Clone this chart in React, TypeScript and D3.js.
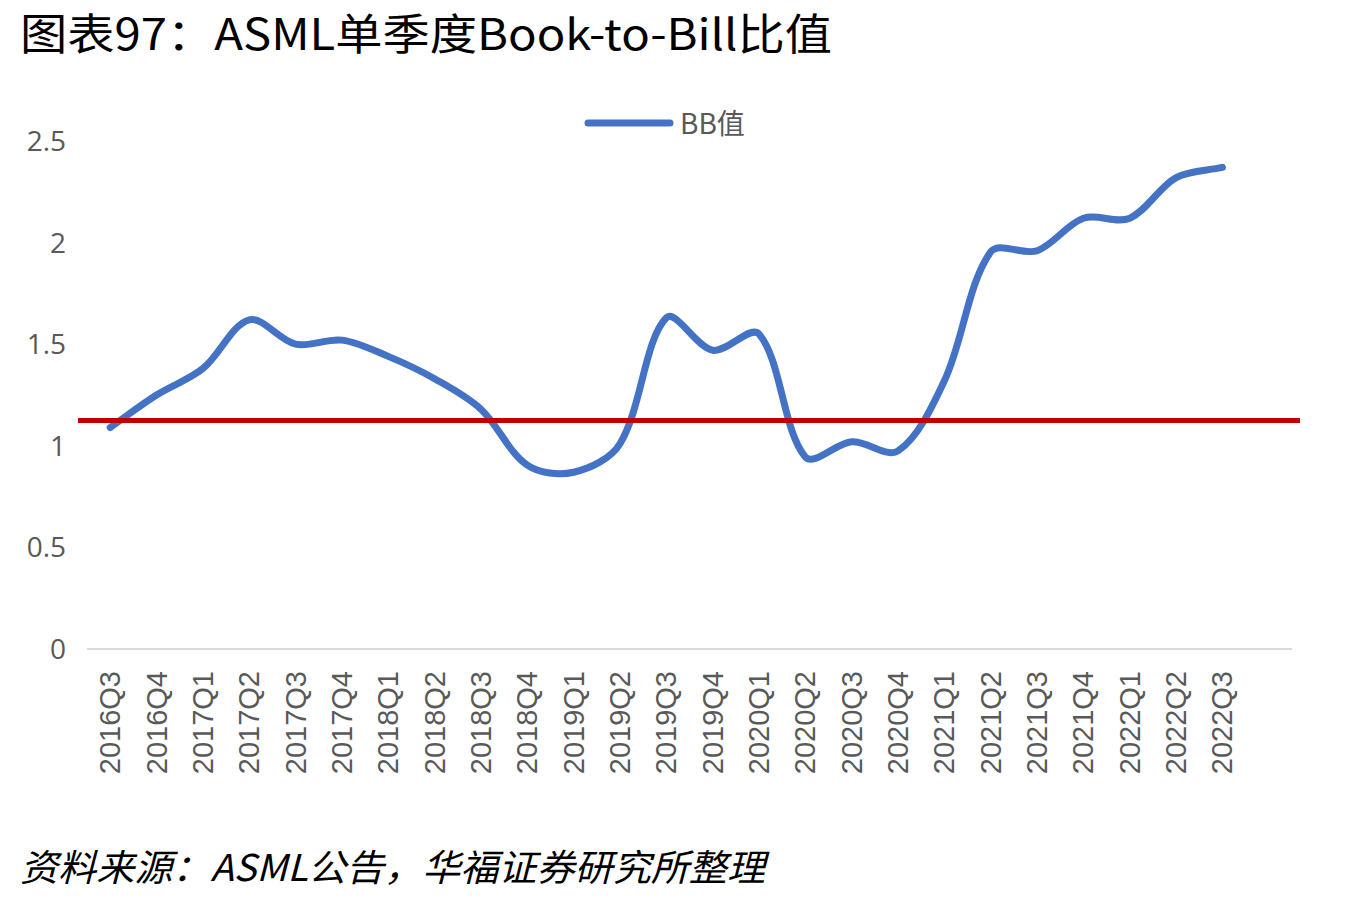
import React from "react";
import * as d3 from "d3";

const categories = [
  "2016Q3","2016Q4","2017Q1","2017Q2","2017Q3","2017Q4","2018Q1","2018Q2","2018Q3","2018Q4",
  "2019Q1","2019Q2","2019Q3","2019Q4","2020Q1","2020Q2","2020Q3","2020Q4","2021Q1","2021Q2",
  "2021Q3","2021Q4","2022Q1","2022Q2","2022Q3",""
];
const bbValues = [
  1.09,1.25,1.38,1.62,1.50,1.52,1.44,1.33,1.18,0.905,
  0.87,1.01,1.63,1.47,1.55,0.945,1.02,0.975,1.32,1.955,
  1.96,2.12,2.12,2.32,2.37
];
const yTicks = [0, 0.5, 1, 1.5, 2, 2.5];
const refValue = [1.125];

const W = 1370, H = 901;
const left = 87, right = 1292, top = 141, bottom = 649;

// Excel-like smoothing: Bezier with control points weighted by neighbouring segment lengths
function smoothPath(pts: [number, number][]): string {
  const p = d3.path();
  const n = pts.length;
  if (!n) return "";
  p.moveTo(pts[0][0], pts[0][1]);
  const dist = (a: [number, number], b: [number, number]) => Math.hypot(b[0] - a[0], b[1] - a[1]);
  const ctrl = (i: number) => {
    const prev = pts[Math.max(0, i - 1)];
    const next = pts[Math.min(n - 1, i + 1)];
    const cur = pts[i];
    const dp = i > 0 ? dist(prev, cur) : 0;
    const dn = i < n - 1 ? dist(cur, next) : 0;
    const tx = next[0] - prev[0];
    const ty = next[1] - prev[1];
    const s = dp + dn || 1;
    const tau = 1 / 3;
    return {
      before: [cur[0] - tx * tau * (dp / s), cur[1] - ty * tau * (dp / s)],
      after: [cur[0] + tx * tau * (dn / s), cur[1] + ty * tau * (dn / s)],
    };
  };
  const cs = pts.map((_, i) => ctrl(i));
  for (let i = 0; i < n - 1; i++) {
    const a = cs[i].after;
    const b = cs[i + 1].before;
    p.bezierCurveTo(a[0], a[1], b[0], b[1], pts[i + 1][0], pts[i + 1][1]);
  }
  return p.toString();
}

export default function App() {
  const keys = categories.map((c, i) => c || "blank" + i);
  const x = d3.scaleBand<string>().domain(keys).range([left, right]);
  const y = d3.scaleLinear().domain([0, 2.5]).range([bottom, top]);
  const cx = (i: number) => (x(keys[i]) as number) + x.bandwidth() / 2;
  const pts: [number, number][] = bbValues.map((v, i) => [cx(i), y(v)]);
  const font = "'Noto Sans CJK SC', 'Noto Sans', sans-serif";
  return (
    <svg width={W} height={H} style={{ position: "absolute", left: 0, top: 0, background: "#fff" }}>
      <rect width={W} height={H} fill="#fff" />
      <text x={20} y={50} fontFamily={font} fontSize={43} fill="#000" textLength={812} lengthAdjust="spacingAndGlyphs">
        图表97：ASML单季度Book-to-Bill比值
      </text>
      {/* legend */}
      <line x1={588} y1={123} x2={670} y2={123} stroke="#4472C4" strokeWidth={7} strokeLinecap="round" />
      <text x={680} y={134} fontFamily={font} fontSize={28} fill="#595959">BB值</text>
      {/* y ticks */}
      {yTicks.map((t) => (
        <text key={t} x={66} y={y(t) + 10} textAnchor="end" fontFamily="'Open Sans', sans-serif" fontSize={28} fill="#595959">
          {t}
        </text>
      ))}
      {/* axis */}
      <line x1={left} y1={bottom} x2={right} y2={bottom} stroke="#d9d9d9" strokeWidth={2} />
      {categories.map((c, i) => (
        <text
          key={i}
          transform={`translate(${cx(i) + 10},${671}) rotate(-90)`}
          textAnchor="end"
          fontFamily="'Liberation Sans', Arial, sans-serif"
          fontSize={29}
          fill="#595959"
        >
          {c}
        </text>
      ))}
      <path d={smoothPath(pts)} fill="none" stroke="#4472C4" strokeWidth={7} strokeLinecap="round" strokeLinejoin="round" />
      {refValue.map((v) => (
        <line key={v} x1={78} x2={1300} y1={y(v)} y2={y(v)} stroke="#C00000" strokeWidth={5} />
      ))}
      <text x={20} y={881} fontFamily={font} fontSize={37} fontStyle="italic" fill="#000" textLength={745} lengthAdjust="spacingAndGlyphs">
        资料来源：ASML公告，华福证券研究所整理
      </text>
    </svg>
  );
}
